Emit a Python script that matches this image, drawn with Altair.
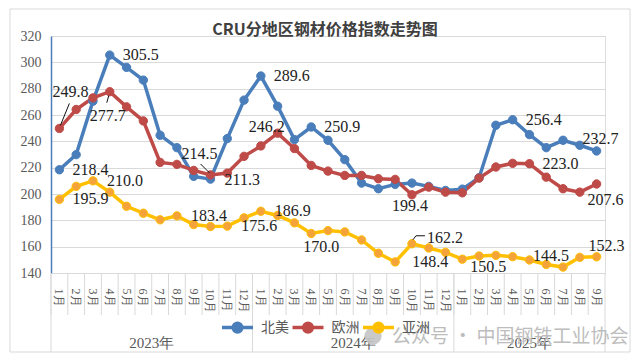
import altair as alt
import pandas as pd

# ---------------- data ----------------
years = [2023, 2024, 2025]
month_keys = [f"{y}-{m:02d}" for y in years for m in range(1, 13)][:33]
series = ["北美", "欧洲", "亚洲"]

north_america = [218.4, 229.9, 270.5, 305.5, 296.2, 286.5, 244.6, 235.2, 213.4, 211.3, 242.1, 271.3,
                 289.6, 266.7, 241.3, 250.9, 240.8, 226.1, 208.3, 204.0, 207.3, 208.3, 205.8, 202.7,
                 203.7, 212.4, 252.2, 256.4, 245.1, 235.2, 240.8, 237.0, 232.7]
europe = [249.8, 264.2, 273.0, 277.7, 266.2, 255.5, 224.0, 222.5, 217.9, 214.5, 215.9, 228.6,
          236.5, 246.2, 234.5, 221.7, 217.4, 214.1, 214.1, 211.6, 211.1, 199.4, 205.2, 201.4,
          200.9, 212.1, 220.5, 223.3, 223.0, 212.8, 204.0, 201.4, 207.6]
asia = [195.9, 205.8, 210.0, 201.4, 190.7, 185.4, 180.4, 183.4, 176.8, 175.3, 175.6, 181.9,
        186.9, 183.7, 178.1, 170.0, 172.2, 171.2, 165.1, 155.0, 148.4, 162.2, 159.0, 155.7,
        150.5, 152.9, 153.4, 152.4, 149.9, 146.5, 144.5, 151.9, 152.3]

year_labels = ["2023年", "2024年", "2025年"]
watermark = "公众号 · 中国钢铁工业协会"
title_text = "CRU分地区钢材价格指数走势图"

rows = []
for s, vals in zip(series, [north_america, europe, asia]):
    for i, (m, v) in enumerate(zip(month_keys, vals)):
        rows.append({"m": m, "i": i, "s": s, "v": v})
df = pd.DataFrame(rows)

# ---------------- styles ----------------
line_colors = ["#4A7EBB", "#BE4B48", "#FFC000"]
marker_colors = ["#4A7EBB", "#BE4B48", "#F4A23A"]
GRID = "#D9D9D9"
TXT = "#595959"
W, H = 554, 237

# labels: (series, index, align, dx, dy)
label_specs = [
    ("北美", 0, "left", 13, 0), ("北美", 3, "left", 13, 0), ("北美", 9, "left", 14, 1),
    ("北美", 12, "left", 13, 0), ("北美", 15, "left", 13, 0), ("北美", 27, "left", 13, 0),
    ("北美", 32, "left", -14, -12),
    ("欧洲", 0, "center", 11, -36), ("欧洲", 3, "center", -2, 24), ("欧洲", 9, "center", -11, -21),
    ("欧洲", 13, "right", 7, -6), ("欧洲", 21, "center", -2, 11), ("欧洲", 28, "left", 13, 0),
    ("欧洲", 32, "left", -9, 16),
    ("亚洲", 0, "left", 13, 0), ("亚洲", 2, "left", 14, 0), ("亚洲", 7, "left", 14, 0),
    ("亚洲", 10, "left", 14, 0), ("亚洲", 12, "left", 14, 0), ("亚洲", 15, "center", 10, 13),
    ("亚洲", 20, "left", 17, 0), ("亚洲", 21, "left", 15, -6), ("亚洲", 24, "left", 8, 8),
    ("亚洲", 30, "center", -12, -11), ("亚洲", 32, "left", -8, -11),
]
# leader lines: (series, index, x1, y1, x2, y2) offsets from point
leader_specs = [
    ("欧洲", 0, 1, -3, 10, -25),
    ("欧洲", 3, -1, 4, -3, 11),
    ("欧洲", 9, -10, -11, -1, -2),
    ("亚洲", 21, 1, -4, 4, -8),
    ("亚洲", 21, 4, -8, 13, -8),
]

xaxis = alt.Axis(
    title=None,
    labelExpr="toNumber(split(datum.value,'-')[1]) + '月'",
    labelAngle=90, labelAlign="left", labelBaseline="middle",
    labelFont="Liberation Serif", labelFontSize=12, labelColor=TXT,
    labelPadding=15, labelOverlap=False,
    ticks=False, domainColor=GRID, domainWidth=1, grid=False,
)
yaxis = alt.Axis(
    title=None, values=list(range(140, 321, 20)),
    labelFont="Liberation Serif", labelFontSize=14, labelColor=TXT, labelPadding=10,
    ticks=False, domainColor="#4A7EBB", domainWidth=1.5,
    grid=True, gridColor=GRID, gridWidth=1,
)
xscale = alt.Scale(type="band", domain=month_keys, paddingInner=0, paddingOuter=0)
yscale = alt.Scale(domain=[140, 320], nice=False, zero=False)


def xenc(bp=0.5):
    return alt.X("m:N", scale=xscale, axis=xaxis, bandPosition=bp)


def yenc():
    return alt.Y("v:Q", scale=yscale, axis=yaxis)


sym_path = "M-1,0H1M0.28,0A0.28,0.28,0,1,1,-0.28,0A0.28,0.28,0,1,1,0.28,0Z"
legend = alt.Legend(
    orient="none", legendX=169, legendY=274, direction="horizontal", title=None,
    symbolType=sym_path, symbolSize=961, symbolStrokeWidth=3.5,
    labelFont="Noto Sans CJK SC", labelFontSize=14, labelColor=TXT,
    labelOffset=6, columnPadding=-3.5, padding=0,
)
stroke_scale = alt.Scale(domain=series, range=line_colors)
fill_scale = alt.Scale(domain=series, range=marker_colors)

layers = []

one = pd.DataFrame({"t": [title_text]})
frame = alt.Chart(one).mark_rect(
    fillOpacity=0, stroke=GRID, strokeWidth=1
).encode(x=alt.value(-41), x2=alt.value(579), y=alt.value(-27), y2=alt.value(316))
layers.append(frame)

# month separators below the axis
sep_df = pd.DataFrame({"m": month_keys})
layers.append(
    alt.Chart(sep_df).mark_rule(color=GRID, strokeWidth=1)
    .encode(x=xenc(0), y=alt.value(H), y2=alt.value(H + 42))
)

base = alt.Chart(df)
lines = base.mark_line(strokeWidth=3.5).encode(
    x=xenc(), y=yenc(),
    stroke=alt.Stroke("s:N", scale=stroke_scale, legend=legend),
    order="i:Q",
)
points = base.mark_point(filled=True, shape="circle", size=70, strokeWidth=1, opacity=1).encode(
    x=xenc(), y=yenc(),
    fill=alt.Fill("s:N", scale=fill_scale, legend=legend),
    stroke=alt.Stroke("s:N", scale=stroke_scale, legend=legend),
)
layers += [lines, points]

for s, i, align, dx, dy in label_specs:
    layers.append(
        base.transform_filter((alt.datum.s == s) & (alt.datum.i == i))
        .mark_text(align=align, baseline="middle", dx=dx, dy=dy,
                   font="Liberation Serif", fontSize=16, color="#222222")
        .encode(x=xenc(), y=yenc(), text=alt.Text("v:Q", format=".1f"))
    )

for s, i, a, b, c, d in leader_specs:
    layers.append(
        base.transform_filter((alt.datum.s == s) & (alt.datum.i == i))
        .mark_rule(color="#111111", strokeWidth=1, xOffset=a, yOffset=b, x2Offset=c, y2Offset=d)
        .encode(x=xenc(), y=yenc(),
                x2=alt.X2("m", bandPosition=0.5), y2=alt.Y2("v"))
    )

# year group separators
starts = pd.DataFrame({"m": [f"{y}-01" for y in years]})
layers.append(
    alt.Chart(starts).mark_rule(color=GRID, strokeWidth=1)
    .encode(x=xenc(0), y=alt.value(H), y2=alt.value(316))
)
layers.append(
    alt.Chart(pd.DataFrame({"m": [month_keys[-1]]})).mark_rule(color=GRID, strokeWidth=1)
    .encode(x=xenc(1), y=alt.value(H), y2=alt.value(316))
)

# year labels
yl1 = pd.DataFrame({"m": ["2023-07", "2024-07"], "t": year_labels[:2]})
yl2 = pd.DataFrame({"m": ["2025-05"], "t": year_labels[2:]})
for d, bp in [(yl1, 0), (yl2, 0.5)]:
    layers.append(
        alt.Chart(d).mark_text(font="Liberation Serif", fontSize=15, color=TXT, baseline="middle")
        .encode(x=xenc(bp), y=alt.value(307), text="t:N")
    )

# title
layers.append(
    alt.Chart(one).mark_text(font="Noto Sans CJK SC", fontSize=16, fontWeight="bold",
                             color="#404040", baseline="middle", align="center")
    .encode(x=alt.value(274), y=alt.value(-6), text="t:N")
)

# watermark
wm = pd.DataFrame({"t": [watermark]})
layers.append(
    alt.Chart(wm).mark_circle(size=300, color="#C4C4C4", opacity=0.9)
    .encode(x=alt.value(322), y=alt.value(300))
)
layers.append(
    alt.Chart(wm).mark_text(align="left", baseline="middle", font="Noto Sans CJK SC",
                            fontSize=19, color="#BDBDBD")
    .encode(x=alt.value(341), y=alt.value(301), text="t:N")
)

chart = alt.layer(*layers).properties(
    width=W, height=H,
    autosize=alt.AutoSizeParams(type="none"),
    padding={"left": 43, "top": 28, "right": 27, "bottom": 80},
).configure_view(stroke=None).configure(background="white")

chart.save("out.html", embed_options={"renderer": "svg", "actions": False})
